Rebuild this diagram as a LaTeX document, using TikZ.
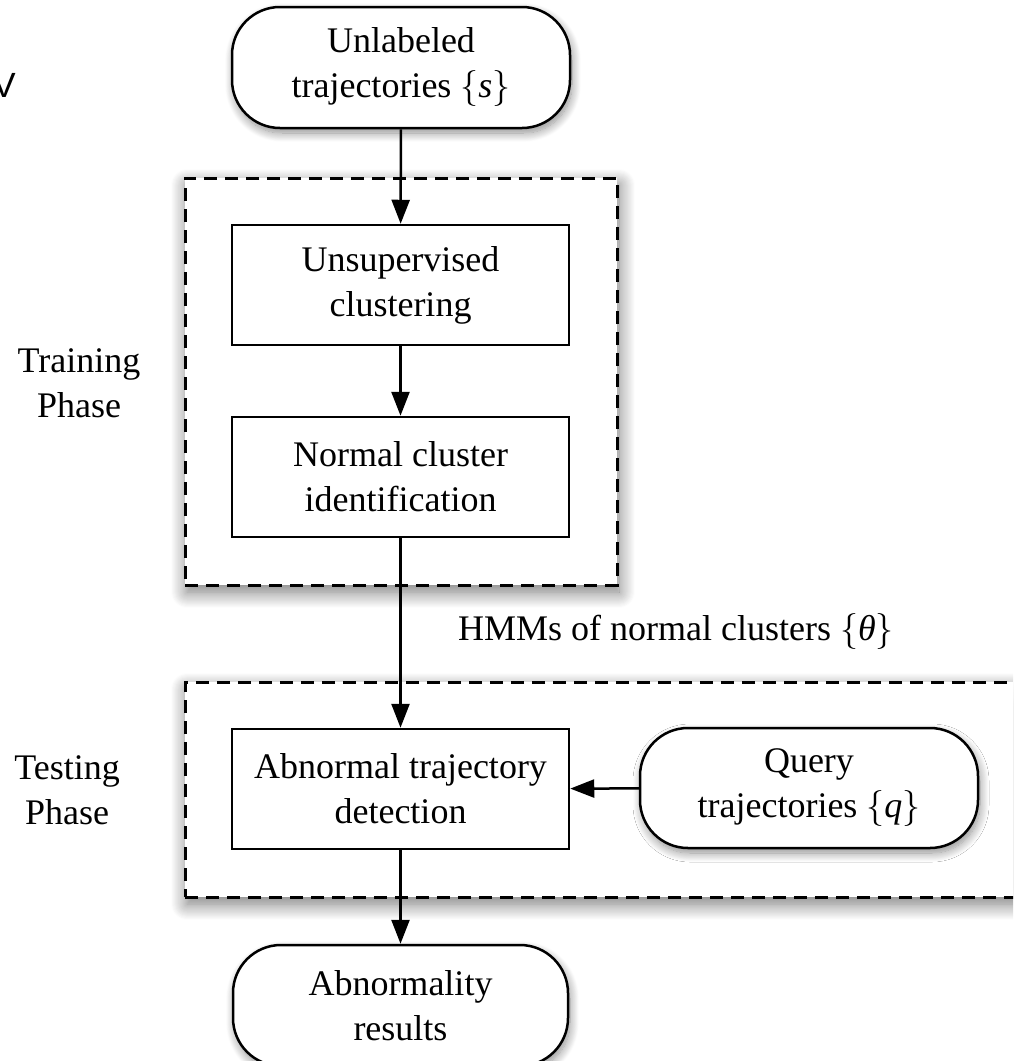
\documentclass[tikz,border=0pt]{standalone}
\usepackage{fix-cm}
\usepackage{fontspec}
\setmainfont{Liberation Serif}
\newfontfamily\vsans{Liberation Sans}
\usetikzlibrary{shadows.blur,arrows.meta}
\begin{document}
\begin{tikzpicture}[x=1pt,y=-1pt,
  every node/.style={font=\fontsize{36}{45}\selectfont},
  procbox/.style={draw, line width=2.5pt, fill=white, minimum width=337pt,
    minimum height=120pt, align=center, inner sep=0pt},
  termbox/.style={procbox, rounded corners=48pt,
    blur shadow={shadow xshift=2pt, shadow yshift=-5pt, shadow blur radius=9pt,
      shadow blur steps=14, shadow opacity=45}},
  phasebox/.style={draw, line width=3pt, dash pattern=on 13pt off 8pt, fill=white,
    inner sep=0pt,
    blur shadow={shadow xshift=2pt, shadow yshift=-7pt, shadow blur radius=16pt,
      shadow blur steps=16, shadow opacity=55}},
  flow/.style={line width=2.5pt, -{Triangle[length=24pt,width=18pt]}},
  phaselabel/.style={align=center, inner sep=0pt}
]
\useasboundingbox (0,0) rectangle (1013,1061);
\clip (0,0) rectangle (1013,1061);

% phase regions
\node[phasebox, minimum width=432pt, minimum height=407pt] (train) at (401,381.5) {};
\node[phasebox, minimum width=860pt, minimum height=215pt] (test) at (615,789.5) {};

% nodes
\node[termbox, minimum width=338pt, minimum height=121pt] (input) at (401,67.5)
  {Unlabeled\\trajectories $\{$\textit{s}$\}$};
\node[procbox] (cluster) at (400.5,285) {Unsupervised\\clustering};
\node[procbox] (normal) at (400.5,477) {Normal cluster\\identification};
\node[procbox] (detect) at (400.5,789) {Abnormal trajectory\\detection};
\node[termbox, minimum width=338pt, minimum height=120pt] (query) at (809,788)
  {Query\\trajectories $\{$\textit{q}$\}$};
\node[termbox, minimum width=335pt, minimum height=121pt] (result) at (400.5,1005.5)
  {Abnormality\\results};

% labels
\node[phaselabel] (trainlbl) at (79,383) {Training\\Phase};
\node[phaselabel] (testlbl) at (67,790) {Testing\\Phase};
\node[anchor=base west, inner sep=0pt] (hmm) at (458,640) {HMMs of normal clusters $\{$\textit{θ}$\}$};
\node[anchor=base east, inner sep=0pt, font=\vsans\fontsize{35}{40}\selectfont] (stray) at (16,97) {V};

% connectors
\draw[flow] (input) -- (cluster);
\draw[flow] (cluster) -- (normal);
\draw[flow] (normal) -- (detect);
\draw[flow] (query) -- (detect);
\draw[flow] (detect) -- (result);
\end{tikzpicture}
\end{document}
